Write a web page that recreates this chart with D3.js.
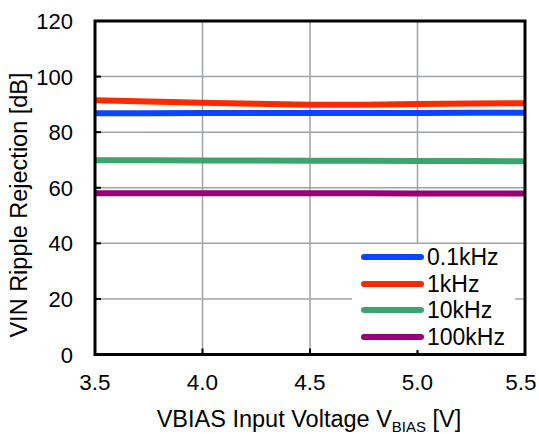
<!DOCTYPE html>
<html><head><meta charset="utf-8">
<script src="https://cdn.jsdelivr.net/npm/d3@7"></script>
<style>
body{margin:0;background:#fff;}
text{font-family:Arial,"Liberation Sans",sans-serif;fill:#000;}
</style></head>
<body><svg id="chart" width="539" height="434"></svg>
<script>
const xValues = [3.5, 3.75, 4.0, 4.25, 4.5, 4.75, 5.0, 5.25, 5.5];
const seriesNames = ["0.1kHz", "1kHz", "10kHz", "100kHz"];
const seriesColors = ["#0a46ff", "#ff2a00", "#3ba56f", "#990077"];
const v01k  = [86.8, 86.8, 86.9, 86.9, 86.9, 86.9, 86.9, 87.0, 87.0];
const v1k   = [91.5, 91.0, 90.6, 90.2, 89.9, 89.9, 90.1, 90.3, 90.4];
const v10k  = [69.9, 69.9, 69.8, 69.8, 69.7, 69.7, 69.6, 69.6, 69.5];
const v100k = [58.0, 58.0, 58.0, 58.0, 58.0, 58.0, 57.9, 57.9, 57.9];
const xTicks = [3.5, 4.0, 4.5, 5.0, 5.5];
const yTicks = [0, 20, 40, 60, 80, 100, 120];
const allSeries = [v01k, v1k, v10k, v100k];

const svg = d3.select("#chart");
const L = 95, R = 525, T = 21, B = 354.5;
const x = d3.scaleLinear().domain([3.5, 5.5]).range([L, R]);
const y = d3.scaleLinear().domain([0, 120]).range([B, T]);

// gridlines
svg.append("g").selectAll("line").data(yTicks).join("line")
  .attr("x1", L).attr("x2", R).attr("y1", d => y(d)).attr("y2", d => y(d))
  .attr("stroke", "#a0a3a8").attr("stroke-width", 1.5);
svg.append("g").selectAll("line").data(xTicks).join("line")
  .attr("y1", T).attr("y2", B).attr("x1", d => x(d)).attr("x2", d => x(d))
  .attr("stroke", "#a0a3a8").attr("stroke-width", 1.5);

// inward ticks
svg.append("g").selectAll("line").data(yTicks).join("line")
  .attr("x1", L).attr("x2", L + 6).attr("y1", d => y(d)).attr("y2", d => y(d))
  .attr("stroke", "#000").attr("stroke-width", 2);
svg.append("g").selectAll("line").data(xTicks).join("line")
  .attr("y1", B).attr("y2", B - 6).attr("x1", d => x(d)).attr("x2", d => x(d))
  .attr("stroke", "#000").attr("stroke-width", 2);

// lines
const line = d3.line().x((d, i) => x(xValues[i])).y(d => y(d));
svg.append("g").selectAll("path").data(allSeries).join("path")
  .attr("d", d => line(d)).attr("fill", "none")
  .attr("stroke", (d, i) => seriesColors[i]).attr("stroke-width", 6);

// frame
svg.append("rect").attr("x", L).attr("y", T).attr("width", R - L).attr("height", B - T)
  .attr("fill", "none").attr("stroke", "#000").attr("stroke-width", 3);

// tick labels
svg.append("g").selectAll("text").data(yTicks).join("text")
  .attr("x", 73).attr("y", d => y(d) + 8).attr("text-anchor", "end")
  .style("font-size", "22px").text(d => d);
svg.append("g").selectAll("text").data(xTicks).join("text")
  .attr("x", d => Math.min(x(d), 521)).attr("y", 390).attr("text-anchor", "middle")
  .style("font-size", "22.5px").text(d => d.toFixed(1));

// axis titles
const xt = svg.append("text").attr("x", 309).attr("y", 427).attr("text-anchor", "middle")
  .style("font-size", "23.5px");
xt.append("tspan").text("VBIAS Input Voltage V");
xt.append("tspan").attr("dy", 5).style("font-size", "15px").text("BIAS");
xt.append("tspan").attr("dy", -5).text(" [V]");

svg.append("text").attr("transform", "translate(27,205) rotate(-90)")
  .attr("text-anchor", "middle").style("font-size", "23.5px")
  .text("VIN Ripple Rejection [dB]");

// legend
const lg = svg.append("g");
lg.append("rect").attr("x", 352).attr("y", 244).attr("width", 163).attr("height", 106).attr("fill", "#fff");
const ly = [257, 284, 310, 337];
seriesNames.forEach((n, i) => {
  lg.append("line").attr("x1", 364).attr("x2", 421).attr("y1", ly[i]).attr("y2", ly[i])
    .attr("stroke", seriesColors[i]).attr("stroke-width", 6).attr("stroke-linecap", "round");
  lg.append("text").attr("x", 427).attr("y", ly[i] + 8).style("font-size", "23px").text(n);
});
</script></body></html>
